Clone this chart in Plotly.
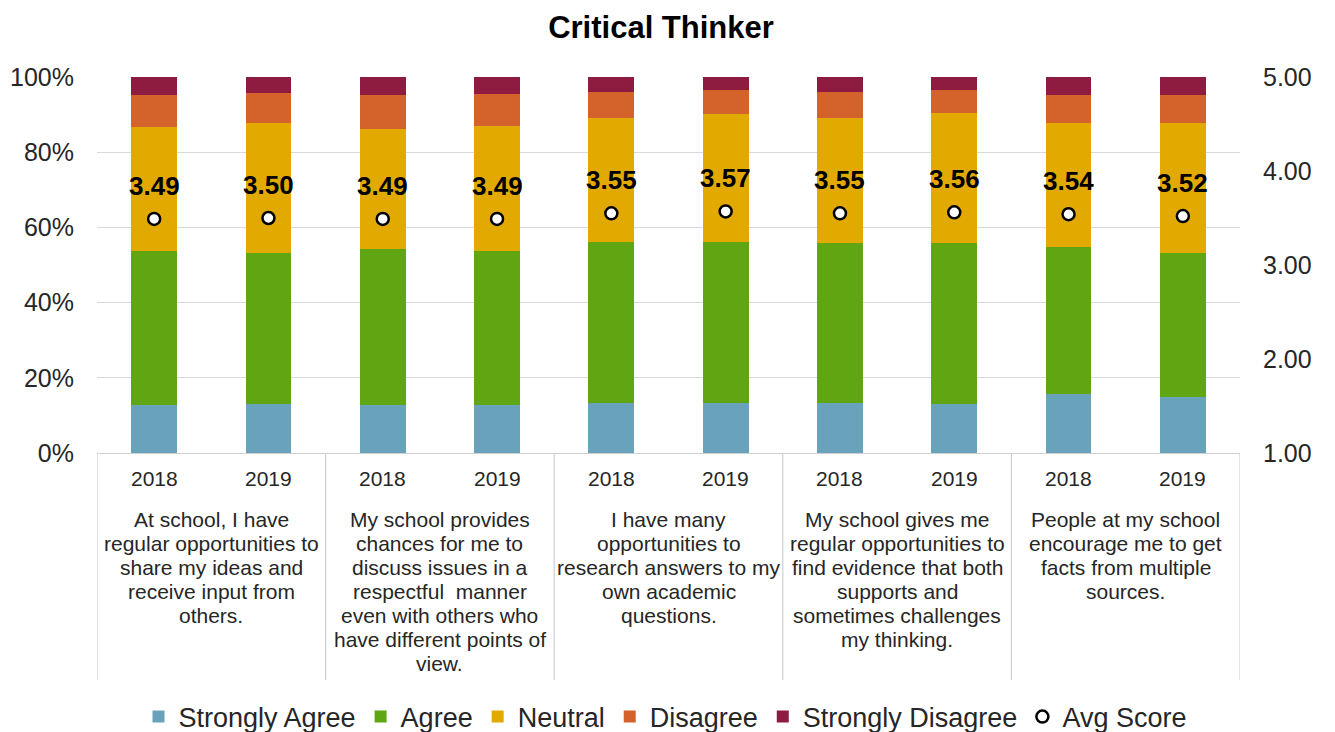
import plotly.graph_objects as go

# ---- data ----
years = ["2018", "2019"] * 5
questions = [
    ["At school, I have", "regular opportunities to", "share my ideas and", "receive input from", "others."],
    ["My school provides", "chances for me to", "discuss issues in a", "respectful  manner", "even with others who", "have different points of", "view."],
    ["I have many", "opportunities to", "research answers to my", "own academic", "questions."],
    ["My school gives me", "regular opportunities to", "find evidence that both", "supports and", "sometimes challenges", "my thinking."],
    ["People at my school", "encourage me to get", "facts from multiple", "sources."],
]
strongly_agree = [12.8, 13.1, 12.8, 12.8, 13.4, 13.4, 13.4, 13.0, 15.6, 15.0]
agree = [41.0, 40.2, 41.4, 41.0, 42.8, 42.8, 42.5, 42.9, 39.3, 38.3]
neutral = [32.8, 34.4, 32.1, 33.2, 32.8, 33.9, 33.1, 34.5, 32.8, 34.4]
disagree = [8.5, 8.1, 8.8, 8.5, 7.1, 6.4, 7.1, 6.1, 7.4, 7.4]
strongly_disagree = [4.9, 4.2, 4.9, 4.5, 3.9, 3.5, 3.9, 3.5, 4.9, 4.9]
avg_score = [3.49, 3.50, 3.49, 3.49, 3.55, 3.57, 3.55, 3.56, 3.54, 3.52]

series = [
    ("Strongly Agree", strongly_agree, "#68A2BB"),
    ("Agree", agree, "#60A612"),
    ("Neutral", neutral, "#E2AA00"),
    ("Disagree", disagree, "#D3632B"),
    ("Strongly Disagree", strongly_disagree, "#8E1C40"),
]

FONT = "Liberation Sans, Arial, sans-serif"
xpos = list(range(len(years)))

# page body has an 8px margin; figure is sized/positioned to compensate
W, H = 1327, 724
OFF = 8

fig = go.Figure()
for name, vals, color in series:
    fig.add_trace(go.Bar(
        x=xpos, y=[v / 100 for v in vals], name=name,
        marker=dict(color=color, line=dict(width=0)),
    ))

fig.add_trace(go.Scatter(
    x=xpos, y=avg_score, name="Avg Score", mode="markers", yaxis="y2",
    marker=dict(symbol="circle", size=12, color="white", line=dict(color="black", width=2.5)),
))

annotations = []
for xi, s in zip(xpos, avg_score):
    annotations.append(dict(
        x=xi, y=s, xref="x", yref="y2", text=f"<b>{s:.2f}</b>", showarrow=False,
        yshift=33, font=dict(family=FONT, size=26, color="black"),
    ))
for xi, yr in zip(xpos, years):
    annotations.append(dict(
        x=xi, y=-0.0665, xref="x", yref="paper", text=yr, showarrow=False,
        yanchor="middle", font=dict(family=FONT, size=21, color="#262626"),
    ))
for qi, lines in enumerate(questions):
    for li, line in enumerate(lines):
        annotations.append(dict(
            x=qi * 2 + 0.5, y=-0.178, xref="x", yref="paper", text=line, showarrow=False,
            yanchor="middle", yshift=-24 * li,
            font=dict(family=FONT, size=21, color="#262626"),
        ))

shapes = []
for k in range(6):
    shapes.append(dict(
        type="line", xref="x", yref="paper", x0=k * 2 - 0.5, x1=k * 2 - 0.5,
        y0=0, y1=-0.604, line=dict(color="#D0D0D0", width=1.2),
    ))

fig.update_layout(
    width=W, height=H,
    barmode="stack", bargap=0.6,
    plot_bgcolor="white", paper_bgcolor="white",
    margin=dict(l=97 - OFF, r=95, t=77 - OFF, b=279, autoexpand=False),
    title=dict(text="<b>Critical Thinker</b>", x=(661 - OFF) / W, xanchor="center",
               y=1 - (27 - OFF) / H, yanchor="middle",
               font=dict(family=FONT, size=31, color="black")),
    xaxis=dict(range=[-0.5, 9.5], showticklabels=False, showgrid=False, zeroline=False,
               showline=True, linecolor="#D0D0D0", linewidth=1.2, ticks="", automargin=False),
    yaxis=dict(range=[0, 1], dtick=0.2, tickformat=".0%", showgrid=True, gridcolor="#D9D9D9",
               gridwidth=1.2, zeroline=False, ticks="", ticklabelstandoff=22, automargin=False,
               tickfont=dict(family=FONT, size=25, color="#262626")),
    yaxis2=dict(range=[1, 5], dtick=1, tickformat=".2f", overlaying="y", side="right",
                showgrid=False, zeroline=False, ticks="", ticklabelstandoff=22, automargin=False,
                tickfont=dict(family=FONT, size=25, color="#262626")),
    legend=dict(orientation="h", x=(665 - OFF) / W, xanchor="center", xref="container",
                y=1 - (717 - OFF) / H, yref="container",
                yanchor="middle", font=dict(family=FONT, size=27, color="#262626"),
                itemwidth=30, traceorder="normal"),
    annotations=annotations, shapes=shapes,
)

fig.write_html("out.html")
